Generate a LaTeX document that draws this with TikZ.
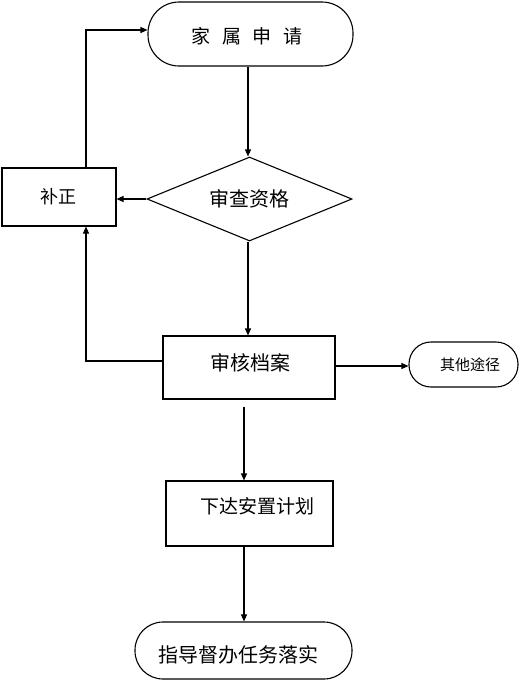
\documentclass[tikz,border=0pt]{standalone}
\usepackage{fontspec}
\setmainfont{Noto Sans CJK SC}
\usetikzlibrary{shapes.geometric,arrows.meta}
\newcommand{\fs}[1]{\fontsize{#1}{#1}\selectfont}
\newcommand{\shifttext}[3]{\hspace*{#1}\raisebox{#2}[\height][\depth]{#3}}
\begin{document}
\begin{tikzpicture}[x=1pt,y=-1pt,
  every node/.style={line width=1.1pt,inner sep=0pt},
  stadium/.style={draw,rounded corners=#1,align=center},
  boxnode/.style={draw,rectangle,align=center},
  arr/.style={line width=1.1pt,-{Triangle[length=7pt,width=6pt]}},
  plainline/.style={line width=1.1pt}]
\useasboundingbox (0,0) rectangle (521,681);
\node[stadium=31pt,minimum width=205pt,minimum height=64pt] (apply) at (250.5,34)
  {\fs{19}\shifttext{-7pt}{-2pt}{家\hspace{0.6em}属\hspace{0.6em}申\hspace{0.6em}请}};
\node[draw,diamond,aspect=2.44,minimum width=205pt,minimum height=84pt] (check) at (249.5,199)
  {\fs{20}审查资格};
\node[boxnode,minimum width=114pt,minimum height=58pt] (fix) at (59,197)
  {\fs{18}补正};
\node[boxnode,minimum width=172pt,minimum height=63pt] (review) at (249,367.5)
  {\fs{20}\shifttext{2pt}{4.5pt}{审核档案}};
\node[stadium=22pt,minimum width=109pt,minimum height=45pt] (other) at (463.5,364.5)
  {\fs{15}\shifttext{13pt}{0pt}{其他途径}};
\node[boxnode,minimum width=167pt,minimum height=65pt] (plan) at (249.5,513.5)
  {\fs{19}\shifttext{15pt}{7.5pt}{下达安置计划}};
\node[stadium=28pt,minimum width=217pt,minimum height=57pt] (final) at (243.5,650.5)
  {\fs{20}\shifttext{-11pt}{-4.5pt}{指导督办任务落实}};
% connectors
\coordinate (fixtop) at ([xshift=27pt]fix.north);
\coordinate (fixbot) at ([xshift=27pt]fix.south);
\draw[arr] ([xshift=-2.5pt]apply.south) -- ([xshift=-1.5pt]check.north);
\draw[arr] (check.west) -- (check.west -| fix.east);
\draw[arr] (fixtop) |- ([yshift=4pt]apply.west);
\draw[arr] ([xshift=-1.5pt]check.south) -- ([xshift=-1pt]review.north);
\draw[arr] ([yshift=6.5pt]review.west) -| (fixbot);
\draw[arr] ([yshift=1.5pt]review.east) -- ([yshift=1.5pt]review.east -| other.west);
\draw[arr] ([xshift=-5pt,yshift=-7pt]review.south) -- ([xshift=-5.5pt]plan.north);
\draw[arr] ([xshift=-5.5pt]plan.south) -- ([xshift=0.5pt]final.north);
\end{tikzpicture}
\end{document}
